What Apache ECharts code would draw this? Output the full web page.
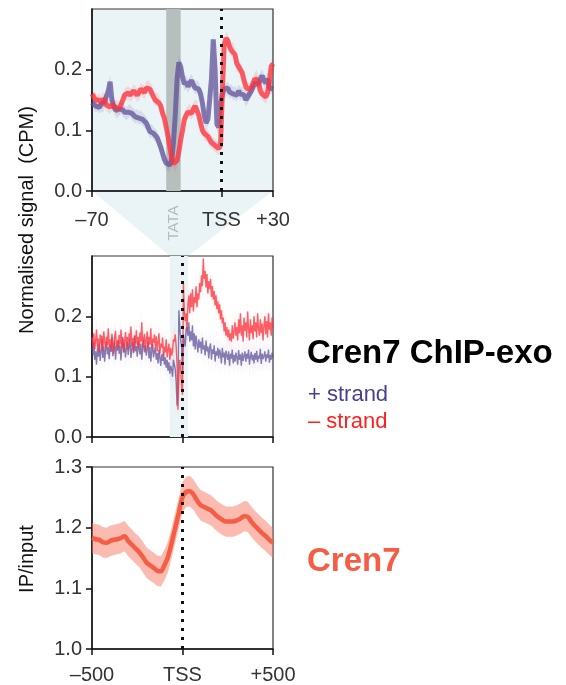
<!DOCTYPE html>
<html lang="en">
<head>
<meta charset="UTF-8">
<title>Cren7 ChIP-exo</title>
<style>
  html, body { margin: 0; padding: 0; background: #fff; }
  #chart { width: 566px; height: 685px; }
</style>
</head>
<body>
<div id="chart"></div>
<script src="https://cdn.jsdelivr.net/npm/echarts@6/dist/echarts.min.js"></script>
<script>
// zoomed panel, 1 bp bins from -70 to +30
const zoomStart = -70
const zoomPlus = [
  0.146, 0.145, 0.140, 0.143, 0.138, 0.142, 0.140, 0.148, 0.150, 0.165,
  0.180, 0.150, 0.140, 0.133, 0.130, 0.135, 0.138, 0.134, 0.130, 0.128,
  0.130, 0.133, 0.128, 0.125, 0.122, 0.124, 0.120, 0.122, 0.118, 0.115,
  0.112, 0.105, 0.098, 0.100, 0.095, 0.092, 0.088, 0.080, 0.072, 0.062,
  0.052, 0.046, 0.043, 0.043, 0.050, 0.080, 0.125, 0.185, 0.212, 0.205,
  0.188, 0.176, 0.180, 0.172, 0.178, 0.182, 0.175, 0.170, 0.172, 0.168,
  0.160, 0.145, 0.125, 0.112, 0.118, 0.150, 0.185, 0.250, 0.200, 0.110,
  0.105, 0.140, 0.160, 0.168, 0.165, 0.170, 0.163, 0.165, 0.160, 0.162,
  0.158, 0.165, 0.160, 0.162, 0.158, 0.150, 0.155, 0.160, 0.165, 0.172,
  0.178, 0.180, 0.176, 0.185, 0.190, 0.182, 0.178, 0.185, 0.170, 0.172,
  0.168
]
const zoomMinus = [
  0.160, 0.155, 0.150, 0.148, 0.150, 0.145, 0.152, 0.148, 0.142, 0.140,
  0.138, 0.142, 0.145, 0.138, 0.140, 0.136, 0.142, 0.150, 0.158, 0.160,
  0.162, 0.158, 0.160, 0.165, 0.162, 0.158, 0.160, 0.168, 0.165, 0.162,
  0.170, 0.172, 0.168, 0.165, 0.155, 0.150, 0.152, 0.145, 0.140, 0.128,
  0.120, 0.105, 0.090, 0.072, 0.055, 0.045, 0.043, 0.050, 0.065, 0.084,
  0.100, 0.118, 0.125, 0.130, 0.132, 0.128, 0.135, 0.140, 0.138, 0.125,
  0.112, 0.100, 0.095, 0.092, 0.090, 0.085, 0.080, 0.078, 0.075, 0.072,
  0.070, 0.075, 0.160, 0.240, 0.252, 0.248, 0.238, 0.232, 0.235, 0.225,
  0.210, 0.205, 0.200, 0.195, 0.182, 0.172, 0.168, 0.165, 0.170, 0.178,
  0.185, 0.188, 0.180, 0.165, 0.160, 0.158, 0.155, 0.162, 0.180, 0.205,
  0.210
]
const zoomBand = 0.011

// wide panel, 5 bp bins from -500 to +500
const wideStart = -500
const wideStep = 5
const widePlus = [
  0.150, 0.135, 0.158, 0.128, 0.142, 0.120, 0.148, 0.133, 0.155, 0.126,
  0.140, 0.162, 0.131, 0.150, 0.125, 0.146, 0.158, 0.137, 0.149, 0.129,
  0.153, 0.141, 0.165, 0.134, 0.147, 0.159, 0.128, 0.151, 0.143, 0.161,
  0.138, 0.152, 0.127, 0.149, 0.166, 0.140, 0.155, 0.132, 0.147, 0.158,
  0.136, 0.150, 0.162, 0.131, 0.145, 0.157, 0.139, 0.168, 0.142, 0.151,
  0.133, 0.159, 0.146, 0.137, 0.155, 0.128, 0.148, 0.161, 0.140, 0.152,
  0.135, 0.146, 0.158, 0.130, 0.149, 0.125, 0.143, 0.155, 0.132, 0.141,
  0.150, 0.128, 0.139, 0.122, 0.145, 0.131, 0.118, 0.137, 0.126, 0.140,
  0.120, 0.132, 0.115, 0.128, 0.110, 0.124, 0.105, 0.118, 0.112, 0.100,
  0.128, 0.120, 0.112, 0.092, 0.052, 0.080, 0.210, 0.182, 0.160, 0.150,
  0.105, 0.170, 0.158, 0.150, 0.178, 0.182, 0.168, 0.190, 0.158, 0.175,
  0.160, 0.185, 0.150, 0.172, 0.145, 0.168, 0.155, 0.140, 0.162, 0.148,
  0.158, 0.138, 0.165, 0.145, 0.152, 0.135, 0.160, 0.142, 0.150, 0.130,
  0.148, 0.155, 0.128, 0.145, 0.138, 0.152, 0.125, 0.142, 0.135, 0.148,
  0.130, 0.145, 0.138, 0.122, 0.148, 0.132, 0.140, 0.120, 0.143, 0.135,
  0.128, 0.142, 0.118, 0.138, 0.130, 0.145, 0.122, 0.136, 0.125, 0.140,
  0.132, 0.120, 0.144, 0.128, 0.137, 0.118, 0.140, 0.126, 0.135, 0.142,
  0.125, 0.138, 0.130, 0.145, 0.120, 0.133, 0.141, 0.127, 0.136, 0.122,
  0.139, 0.128, 0.143, 0.124, 0.135, 0.130, 0.146, 0.121, 0.138, 0.129,
  0.134, 0.142, 0.125, 0.137, 0.131, 0.145, 0.123, 0.136, 0.128, 0.140,
  0.132
]
const wideMinus = [
  0.165, 0.150, 0.172, 0.145, 0.160, 0.178, 0.148, 0.163, 0.140, 0.170,
  0.155, 0.168, 0.142, 0.175, 0.158, 0.147, 0.166, 0.152, 0.180, 0.149,
  0.162, 0.144, 0.171, 0.157, 0.138, 0.165, 0.176, 0.150, 0.160, 0.146,
  0.169, 0.153, 0.178, 0.148, 0.163, 0.140, 0.158, 0.174, 0.151, 0.166,
  0.145, 0.172, 0.159, 0.183, 0.150, 0.164, 0.141, 0.168, 0.155, 0.177,
  0.152, 0.166, 0.147, 0.173, 0.158, 0.190, 0.149, 0.162, 0.171, 0.143,
  0.160, 0.175, 0.148, 0.166, 0.153, 0.180, 0.145, 0.163, 0.156, 0.170,
  0.150, 0.167, 0.142, 0.158, 0.172, 0.138, 0.155, 0.148, 0.165, 0.135,
  0.150, 0.140, 0.162, 0.132, 0.145, 0.155, 0.128, 0.148, 0.135, 0.142,
  0.162, 0.158, 0.170, 0.150, 0.120, 0.045, 0.100, 0.128, 0.112, 0.085,
  0.070, 0.255, 0.210, 0.192, 0.205, 0.178, 0.220, 0.235, 0.205, 0.238,
  0.215, 0.245, 0.208, 0.232, 0.222, 0.250, 0.215, 0.238, 0.228, 0.255,
  0.240, 0.268, 0.250, 0.296, 0.262, 0.275, 0.248, 0.270, 0.238, 0.258,
  0.245, 0.262, 0.232, 0.250, 0.228, 0.242, 0.218, 0.235, 0.212, 0.225,
  0.205, 0.220, 0.195, 0.210, 0.188, 0.198, 0.175, 0.190, 0.168, 0.182,
  0.165, 0.178, 0.160, 0.172, 0.158, 0.185, 0.163, 0.175, 0.190, 0.168,
  0.182, 0.160, 0.195, 0.172, 0.205, 0.168, 0.185, 0.158, 0.198, 0.176,
  0.190, 0.165, 0.208, 0.178, 0.160, 0.195, 0.172, 0.185, 0.162, 0.200,
  0.175, 0.190, 0.165, 0.205, 0.180, 0.168, 0.195, 0.172, 0.188, 0.160,
  0.185, 0.200, 0.170, 0.192, 0.165, 0.205, 0.178, 0.190, 0.168, 0.198,
  0.180
]
const wideBand = 0.02

// IP/input, 20 bp bins from -500 to +500
const ratioStart = -500
const ratioStep = 20
const ratioMean = [
  1.183, 1.181, 1.180, 1.176, 1.175, 1.178, 1.180, 1.181, 1.183, 1.186,
  1.178, 1.172, 1.166, 1.160, 1.152, 1.143, 1.138, 1.134, 1.129, 1.128,
  1.138, 1.152, 1.175, 1.200, 1.225, 1.250, 1.259, 1.260, 1.255, 1.245,
  1.237, 1.234, 1.231, 1.228, 1.222, 1.217, 1.213, 1.210, 1.210, 1.210,
  1.212, 1.215, 1.219, 1.218, 1.210, 1.203, 1.197, 1.191, 1.186, 1.180,
  1.175
]
const ratioBand = 0.025

const zoomRange = [-70, 30]
const tssZoom = 1.5
const tataRange = [-29, -21]
const zoomTickValues = [-70, tssZoom, 30]
const zoomTickLabels = ['–70', 'TSS', '+30']
const wideTickValues = [-500, 0, 500]
const wideTickLabels = ['–500', 'TSS', '+500']
const signalTicks = [0, 0.1, 0.2]

const purple = 'rgba(90,75,150,0.72)'
const red = 'rgba(255,50,60,0.78)'
const coral = '#f65d45'
const paleBlue = '#eaf3f5'
const font = 'Liberation Sans'

let chart = echarts.init(document.getElementById('chart'))

function pairs(start, step, arr) {
  return arr.map((v, i) => [start + i * step, v])
}

// shaded band drawn as one polygon: upper edge forward, lower edge back
function bandSeries(grid, start, step, arr, half, color, extra) {
  let rows = arr.map((v, i) => [start + i * step, v - half, v + half])
  return Object.assign({
    type: 'custom', xAxisIndex: grid, yAxisIndex: grid, silent: true, z: 2,
    data: rows, encode: { x: 0, y: [1, 2] }, clip: true,
    renderItem: (params, api) => {
      if (params.dataIndex !== 0) return
      let top = rows.map(r => api.coord([r[0], r[2]]))
      let bottom = rows.map(r => api.coord([r[0], r[1]])).reverse()
      return { type: 'polygon', shape: { points: top.concat(bottom) }, style: { fill: color } }
    }
  }, extra || {})
}

function lineSeries(grid, start, step, arr, color, width, extra) {
  return Object.assign({
    type: 'line', xAxisIndex: grid, yAxisIndex: grid,
    data: pairs(start, step, arr), symbol: 'none', silent: true,
    lineStyle: { color: color, width: width }, z: 3
  }, extra || {})
}

const dotted = {
  silent: true, symbol: 'none', label: { show: false },
  lineStyle: { color: '#111', type: [3, 6], width: 3 }
}

const axisLine = { show: true, onZero: false, lineStyle: { color: '#111', width: 1.5 } }
const axisTick = { show: true, inside: false, length: 6, lineStyle: { color: '#111', width: 1.5 } }
const axisLabel = { fontSize: 20, color: '#333', fontFamily: font }

function xAxis(grid, range, values, labels, showLabel, margin) {
  return {
    type: 'value', gridIndex: grid, min: range[0], max: range[1],
    axisLine: axisLine, splitLine: { show: false },
    axisTick: Object.assign({}, axisTick, { customValues: values }),
    axisLabel: Object.assign({}, axisLabel, {
      show: showLabel, margin: margin, customValues: values,
      formatter: v => labels[values.indexOf(v)]
    })
  }
}

function yAxis(grid, min, max, values) {
  return {
    type: 'value', gridIndex: grid, min: min, max: max,
    axisLine: axisLine, splitLine: { show: false },
    axisTick: Object.assign({}, axisTick, { customValues: values }),
    axisLabel: Object.assign({}, axisLabel, {
      margin: 10, customValues: values, formatter: v => v.toFixed(1)
    })
  }
}

let option = {
  animation: false,
  grid: [
    { left: 92, top: 9, width: 181, height: 182, show: true, backgroundColor: paleBlue, borderColor: '#333', borderWidth: 1.2 },
    { left: 92, top: 256, width: 181, height: 181, show: true, borderColor: '#333', borderWidth: 1.2 },
    { left: 92, top: 467, width: 181, height: 182, show: true, borderColor: '#333', borderWidth: 1.2 }
  ],
  xAxis: [
    xAxis(0, zoomRange, zoomTickValues, zoomTickLabels, true, 19),
    xAxis(1, [-500, 500], wideTickValues, wideTickLabels, false, 16),
    xAxis(2, [-500, 500], wideTickValues, wideTickLabels, true, 16)
  ],
  yAxis: [
    yAxis(0, 0, 0.3, signalTicks),
    yAxis(1, 0, 0.3, signalTicks),
    yAxis(2, 1.0, 1.3, [1.0, 1.1, 1.2, 1.3])
  ],
  series: [
    // zoomed panel
    bandSeries(0, zoomStart, 1, zoomPlus, zoomBand, 'rgba(90,75,150,0.13)', {
      markArea: { silent: true, itemStyle: { color: '#b7bfbe' }, data: [[{ xAxis: tataRange[0] }, { xAxis: tataRange[1] }]] }
    }),
    bandSeries(0, zoomStart, 1, zoomMinus, zoomBand, 'rgba(255,50,60,0.12)'),
    lineSeries(0, zoomStart, 1, zoomPlus, purple, 5),
    lineSeries(0, zoomStart, 1, zoomMinus, red, 5, {
      markLine: Object.assign({ data: [{ xAxis: tssZoom }] }, dotted)
    }),
    // wide panel
    bandSeries(1, wideStart, wideStep, widePlus, wideBand, 'rgba(90,75,150,0.05)', {
      markArea: { silent: true, itemStyle: { color: paleBlue }, data: [[{ xAxis: zoomRange[0] }, { xAxis: zoomRange[1] }]] }
    }),
    bandSeries(1, wideStart, wideStep, wideMinus, wideBand, 'rgba(255,50,60,0.05)'),
    lineSeries(1, wideStart, wideStep, widePlus, purple, 1.4),
    lineSeries(1, wideStart, wideStep, wideMinus, red, 1.4, {
      markLine: Object.assign({ data: [{ xAxis: 0 }] }, dotted)
    }),
    // IP/input panel
    bandSeries(2, ratioStart, ratioStep, ratioMean, ratioBand, 'rgba(248,120,100,0.5)'),
    lineSeries(2, ratioStart, ratioStep, ratioMean, coral, 4.5, {
      smooth: 0.3,
      markLine: Object.assign({ data: [{ xAxis: 0 }] }, dotted)
    })
  ]
}
chart.setOption(option)

// funnel joining the zoomed window to the wide panel, plus text
let tl = chart.convertToPixel({ gridIndex: 0 }, [zoomRange[0], 0])
let tr = chart.convertToPixel({ gridIndex: 0 }, [zoomRange[1], 0])
let br = chart.convertToPixel({ gridIndex: 1 }, [zoomRange[1], 0.3])
let bl = chart.convertToPixel({ gridIndex: 1 }, [zoomRange[0], 0.3])
let tata = chart.convertToPixel({ gridIndex: 0 }, [(tataRange[0] + tataRange[1]) / 2, 0])

chart.setOption({
  graphic: [
    { type: 'polygon', z: -1, silent: true, shape: { points: [tl, tr, br, bl] }, style: { fill: paleBlue } },
    { type: 'text', x: tata[0], y: tata[1] + 32, rotation: Math.PI / 2, silent: true,
      style: { text: 'TATA', font: '15px ' + font, fill: '#b6bcbe', textAlign: 'center', textVerticalAlign: 'middle' } },
    { type: 'text', x: 27, y: 220, rotation: Math.PI / 2, silent: true,
      style: { text: 'Normalised signal  (CPM)', font: '20px ' + font, fill: '#111', textAlign: 'center', textVerticalAlign: 'middle' } },
    { type: 'text', x: 27, y: 559, rotation: Math.PI / 2, silent: true,
      style: { text: 'IP/input', font: '20px ' + font, fill: '#111', textAlign: 'center', textVerticalAlign: 'middle' } },
    { type: 'text', x: 307, y: 354, silent: true,
      style: { text: 'Cren7 ChIP-exo', font: 'bold 33px ' + font, fill: '#000', textAlign: 'left', textVerticalAlign: 'middle' } },
    { type: 'text', x: 308, y: 395, silent: true,
      style: { text: '+ strand', font: '22px ' + font, fill: '#4b3e8e', textAlign: 'left', textVerticalAlign: 'middle' } },
    { type: 'text', x: 308, y: 422, silent: true,
      style: { text: '– strand', font: '22px ' + font, fill: '#ff1f1f', textAlign: 'left', textVerticalAlign: 'middle' } },
    { type: 'text', x: 307, y: 562, silent: true,
      style: { text: 'Cren7', font: 'bold 33px ' + font, fill: coral, textAlign: 'left', textVerticalAlign: 'middle' } }
  ]
})
</script>
</body>
</html>
